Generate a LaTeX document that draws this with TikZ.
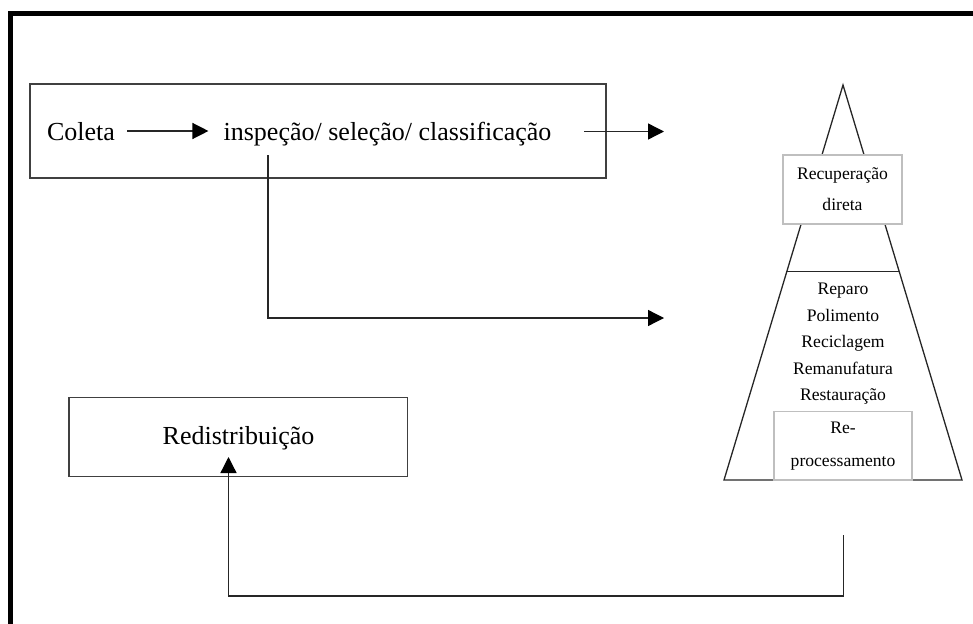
\documentclass[tikz,border=0pt]{standalone}
\usepackage{fontspec}
\setmainfont{Liberation Serif}
\usetikzlibrary{arrows.meta}

\tikzset{
  line/.style={line width=1.3pt, draw=black!85},
  arr/.style={line, -{Triangle[length=16pt,width=16pt,color=black]}},
  bigtext/.style={font=\fontsize{26}{30}\selectfont, inner sep=0pt, text=black},
  smalltext/.style={font=\fontsize{17.6}{26.5}\selectfont, align=center, inner sep=0pt, text=black},
  framebox/.style={line, draw=black!75, fill=white, inner sep=0pt},
  greybox/.style={draw=black!25, line width=1.2pt, fill=white, inner sep=0pt, align=center,
                  font=\fontsize{17.6}{31}\selectfont},
}

\begin{document}
\begin{tikzpicture}[x=1pt, y=-1pt]
  \useasboundingbox (0,0) rectangle (973,623);

  % heavy outer frame (top and left edges)
  \draw[line width=5pt, line cap=rect] (10,640) -- (10,14) -- (990,14);

  % upper process box
  \node[framebox, minimum width=576pt, minimum height=94pt] (topbox) at (318,131) {};
  \node[bigtext, anchor=base] (coleta) at (81,140) {Coleta};
  \node[bigtext, anchor=base] (insp) at (387.5,140) {inspeção/ seleção/ classificação};
  \draw[arr, shorten <=12pt, shorten >=15pt] (coleta.east |- 0,131) -- (insp.west |- 0,131);

  % pyramid of recovery options
  \coordinate (apex) at (843,85);
  \coordinate (baseL) at (724,480);
  \coordinate (baseR) at (962,480);
  \draw[line] (apex) -- (baseL) -- (baseR) -- cycle;
  \draw[line] (786,271.5) -- (900,271.5);

  \node[greybox, minimum width=119pt, minimum height=69pt] (rec) at (842.5,189.5)
       {Recuperação\\direta};
  \node[smalltext] (list) at (843,344)
       {Reparo\\Polimento\\Reciclagem\\Remanufatura\\Restauração};
  \node[greybox, minimum width=138pt, minimum height=68.5pt,
        font=\fontsize{17.6}{33}\selectfont] (reproc) at (843,445.75)
       {Re-\\processamento};

  % arrows into the pyramid
  \coordinate (inA) at (664,131.5);
  \coordinate (outA) at (584,131.5);
  \draw[arr] (outA) -- (inA);
  \coordinate (branch) at (268,155);
  \coordinate (inB) at (664,318);
  \draw[arr] (branch) |- (inB);

  % redistribution box and return path
  \node[framebox, minimum width=338.5pt, minimum height=79.5pt] (redist) at (238.25,437) {};
  \node[bigtext, anchor=base] (redtext) at (238.5,444) {Redistribuição};
  \coordinate (ret) at (843.5,535);
  \coordinate (tip) at (228.5,457);
  \draw[arr] (ret) -- (843.5,596) -- (228.5,596) -- (tip);
\end{tikzpicture}
\end{document}
